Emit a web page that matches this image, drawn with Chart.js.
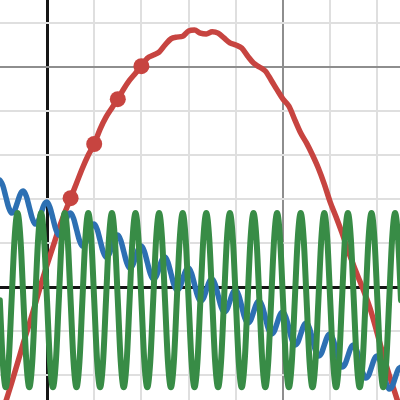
<!DOCTYPE html>
<html>
<head>
<meta charset="utf-8">
<script src="https://cdn.jsdelivr.net/npm/chart.js@4"></script>
<style>
  html, body { margin: 0; padding: 0; background: #fff; }
  canvas { display: block; }
</style>
</head>
<body>
<canvas id="graph" width="400" height="400"></canvas>
<script>
// sample positions (x) for the blue and green curves
const xFine = [
  -1, -0.9375, -0.875, -0.8125, -0.75, -0.6875, -0.625, -0.5625,
  -0.5, -0.4375, -0.375, -0.3125, -0.25, -0.1875, -0.125, -0.0625,
  0, 0.0625, 0.125, 0.1875, 0.25, 0.3125, 0.375, 0.4375,
  0.5, 0.5625, 0.625, 0.6875, 0.75, 0.8125, 0.875, 0.9375,
  1, 1.0625, 1.125, 1.1875, 1.25, 1.3125, 1.375, 1.4375,
  1.5, 1.5625, 1.625, 1.6875, 1.75, 1.8125, 1.875, 1.9375,
  2, 2.0625, 2.125, 2.1875, 2.25, 2.3125, 2.375, 2.4375,
  2.5, 2.5625, 2.625, 2.6875, 2.75, 2.8125, 2.875, 2.9375,
  3, 3.0625, 3.125, 3.1875, 3.25, 3.3125, 3.375, 3.4375,
  3.5, 3.5625, 3.625, 3.6875, 3.75, 3.8125, 3.875, 3.9375,
  4, 4.0625, 4.125, 4.1875, 4.25, 4.3125, 4.375, 4.4375,
  4.5, 4.5625, 4.625, 4.6875, 4.75, 4.8125, 4.875, 4.9375,
  5, 5.0625, 5.125, 5.1875, 5.25, 5.3125, 5.375, 5.4375,
  5.5, 5.5625, 5.625, 5.6875, 5.75, 5.8125, 5.875, 5.9375,
  6, 6.0625, 6.125, 6.1875, 6.25, 6.3125, 6.375, 6.4375,
  6.5, 6.5625, 6.625, 6.6875, 6.75, 6.8125, 6.875, 6.9375,
  7, 7.0625, 7.125, 7.1875, 7.25, 7.3125, 7.375, 7.4375,
  7.5
];

const blueY = [
  2.43, 2.31, 2.06, 1.81, 1.68, 1.74, 1.93, 2.12,
  2.18, 2.06, 1.81, 1.56, 1.43, 1.49, 1.68, 1.87,
  1.93, 1.81, 1.56, 1.31, 1.18, 1.24, 1.43, 1.62,
  1.68, 1.56, 1.31, 1.06, 0.93, 0.99, 1.18, 1.37,
  1.43, 1.31, 1.06, 0.81, 0.68, 0.74, 0.93, 1.12,
  1.18, 1.06, 0.81, 0.56, 0.43, 0.49, 0.68, 0.87,
  0.93, 0.81, 0.56, 0.31, 0.18, 0.24, 0.43, 0.62,
  0.68, 0.56, 0.31, 0.06, -0.07, -0.01, 0.18, 0.37,
  0.43, 0.31, 0.06, -0.19, -0.32, -0.26, -0.07, 0.12,
  0.18, 0.06, -0.19, -0.44, -0.57, -0.51, -0.32, -0.13,
  -0.07, -0.19, -0.44, -0.69, -0.82, -0.76, -0.57, -0.38,
  -0.32, -0.44, -0.69, -0.94, -1.07, -1.01, -0.82, -0.63,
  -0.57, -0.69, -0.94, -1.19, -1.32, -1.26, -1.07, -0.88,
  -0.82, -0.94, -1.19, -1.44, -1.57, -1.51, -1.32, -1.13,
  -1.07, -1.19, -1.44, -1.69, -1.82, -1.76, -1.57, -1.38,
  -1.32, -1.44, -1.69, -1.94, -2.07, -2.01, -1.82, -1.63,
  -1.57, -1.69, -1.94, -2.19, -2.32, -2.26, -2.07, -1.88,
  -1.82
];

const greenY = [
  -0.3, -1.7, -2.28, -1.7, -0.3, 1.1, 1.68, 1.1,
  -0.3, -1.7, -2.28, -1.7, -0.3, 1.1, 1.68, 1.1,
  -0.3, -1.7, -2.28, -1.7, -0.3, 1.1, 1.68, 1.1,
  -0.3, -1.7, -2.28, -1.7, -0.3, 1.1, 1.68, 1.1,
  -0.3, -1.7, -2.28, -1.7, -0.3, 1.1, 1.68, 1.1,
  -0.3, -1.7, -2.28, -1.7, -0.3, 1.1, 1.68, 1.1,
  -0.3, -1.7, -2.28, -1.7, -0.3, 1.1, 1.68, 1.1,
  -0.3, -1.7, -2.28, -1.7, -0.3, 1.1, 1.68, 1.1,
  -0.3, -1.7, -2.28, -1.7, -0.3, 1.1, 1.68, 1.1,
  -0.3, -1.7, -2.28, -1.7, -0.3, 1.1, 1.68, 1.1,
  -0.3, -1.7, -2.28, -1.7, -0.3, 1.1, 1.68, 1.1,
  -0.3, -1.7, -2.28, -1.7, -0.3, 1.1, 1.68, 1.1,
  -0.3, -1.7, -2.28, -1.7, -0.3, 1.1, 1.68, 1.1,
  -0.3, -1.7, -2.28, -1.7, -0.3, 1.1, 1.68, 1.1,
  -0.3, -1.7, -2.28, -1.7, -0.3, 1.1, 1.68, 1.1,
  -0.3, -1.7, -2.28, -1.7, -0.3, 1.1, 1.68, 1.1,
  -0.3, -1.7, -2.28, -1.7, -0.3, 1.1, 1.68, 1.1,
  -0.3
];

// red curve, coarser sampling
const xRed = [
  -1, -0.875, -0.75, -0.625, -0.5, -0.375, -0.25, -0.125,
  0, 0.125, 0.25, 0.375, 0.5, 0.625, 0.75, 0.875,
  1, 1.125, 1.25, 1.375, 1.5, 1.625, 1.75, 1.875,
  2, 2.125, 2.25, 2.375, 2.5, 2.625, 2.75, 2.875,
  3, 3.125, 3.25, 3.375, 3.5, 3.625, 3.75, 3.875,
  4, 4.125, 4.25, 4.375, 4.5, 4.625, 4.75, 4.875,
  5, 5.125, 5.25, 5.375, 5.5, 5.625, 5.75, 5.875,
  6, 6.125, 6.25, 6.375, 6.5, 6.625, 6.75, 6.875,
  7, 7.125, 7.25, 7.375, 7.5
];
const redY = [
  -3.05, -2.61, -2.18, -1.73, -1.27, -0.84, -0.39, 0.07,
  0.5, 0.91, 1.32, 1.68, 2.02, 2.36, 2.70, 3.0,
  3.25, 3.59, 3.86, 4.07, 4.27, 4.5, 4.7, 4.86,
  5.02, 5.2, 5.27, 5.34, 5.5, 5.64, 5.68, 5.7,
  5.82, 5.84, 5.77, 5.75, 5.8, 5.77, 5.66, 5.55,
  5.5, 5.43, 5.25, 5.09, 5.0, 4.91, 4.7, 4.48,
  4.27, 4.11, 3.8, 3.5, 3.27, 3.0, 2.7, 2.34,
  1.93, 1.59, 1.23, 0.84, 0.48, 0.14, -0.2, -0.59,
  -1.07, -1.55, -2.0, -2.41, -2.84
];

// the four marked points on the red curve
const dotX = [0.5, 1, 1.5, 2];
const dotY = [2.02, 3.25, 4.27, 5.02];

const RED = '#c74440';
const BLUE = '#2d70b3';
const GREEN = '#388c46';

function pts(xs, ys) {
  return xs.map((x, i) => ({ x: x, y: ys[i] }));
}

function lineSet(data, color, width) {
  return {
    type: 'line',
    data: data,
    borderColor: color,
    borderWidth: width,
    pointRadius: 0,
    fill: false,
    cubicInterpolationMode: 'monotone',
    borderCapStyle: 'round',
    borderJoinStyle: 'round'
  };
}

// gridlines: black axes at 0, darker lines every 5, light minor lines
function gridColor(ctx) {
  const v = ctx.tick.value;
  if (v === 0) return '#151515';
  if (v % 5 === 0) return '#8e8e8e';
  return '#dfdfdf';
}
function gridWidth(ctx) {
  const v = ctx.tick.value;
  if (v === 0) return 3;
  return 2;
}

const axisOpts = (min, max) => ({
  type: 'linear',
  min: min,
  max: max,
  ticks: { display: false, stepSize: 1, includeBounds: false },
  grid: { drawTicks: false, color: gridColor, lineWidth: gridWidth },
  border: { display: false }
});

let ctx = document.getElementById('graph').getContext('2d');

let graph = new Chart(ctx, {
  type: 'line',
  data: {
    datasets: [
      lineSet(pts(xFine, greenY), GREEN, 6),
      lineSet(pts(xFine, blueY), BLUE, 5.5),
      {
        type: 'scatter',
        data: pts(dotX, dotY),
        backgroundColor: RED,
        borderWidth: 0,
        pointRadius: 8,
        pointHoverRadius: 8
      },
      lineSet(pts(xRed, redY), RED, 5.5)
    ]
  },
  options: {
    responsive: false,
    animation: false,
    layout: { padding: 0, autoPadding: false },
    plugins: {
      legend: { display: false },
      tooltip: { enabled: false }
    },
    scales: {
      x: axisOpts(-0.996, 7.479),
      y: axisOpts(-2.568, 6.523)
    }
  }
});
</script>
</body>
</html>
